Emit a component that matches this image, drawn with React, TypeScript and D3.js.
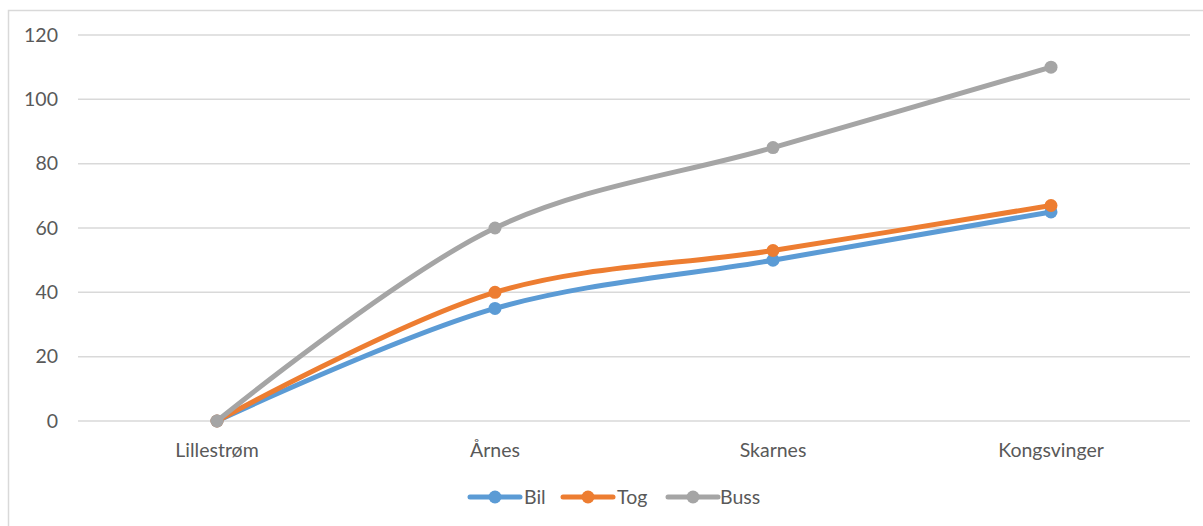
import React from "react";
import * as d3 from "d3";

const categories = ["Lillestrøm", "Årnes", "Skarnes", "Kongsvinger"];
const bil = [0, 35, 50, 65];
const tog = [0, 40, 53, 67];
const buss = [0, 60, 85, 110];
const yTicks = [0, 20, 40, 60, 80, 100, 120];

const seriesNames = ["Bil", "Tog", "Buss"];
const seriesColors = ["#5B9BD5", "#ED7D31", "#A5A5A5"];

const W = 1203;
const H = 526;
const plotLeft = 78;
const plotRight = 1190;
const plotTop = 35;
const plotBottom = 421;

export default function App() {
  const x = d3.scaleBand<string>().domain(categories).range([plotLeft, plotRight]);
  const y = d3.scaleLinear().domain([0, 120]).range([plotBottom, plotTop]);
  const cx = (c: string) => (x(c) as number) + x.bandwidth() / 2;
  const line = d3
    .line<number>()
    .x((_, i) => cx(categories[i]))
    .y((d) => y(d))
    .curve(d3.curveCatmullRom.alpha(0.5));

  const series = [bil, tog, buss];
  const font = "Lato, 'Open Sans', sans-serif";
  const textColor = "#595959";
  const fs = 19.5;

  const legendItems = [
    { lx: 470, tx: 524 },
    { lx: 563, tx: 617 },
    { lx: 668, tx: 720 },
  ];

  return (
    <div style={{ position: "absolute", left: 0, top: 0 }}>
      <svg width={W} height={H} style={{ display: "block", background: "#fff" }}>
        <rect x={8.5} y={10.5} width={W} height={H} fill="#fff" stroke="#D9D9D9" strokeWidth={1.5} />
        {yTicks.map((t) => (
          <g key={t}>
            <line x1={plotLeft} x2={plotRight} y1={y(t)} y2={y(t)} stroke="#D9D9D9" strokeWidth={1.5} />
            <text
              x={58}
              y={y(t)}
              dy="0.35em"
              textAnchor="end"
              fontFamily={font}
              fontSize={fs}
              fill={textColor}
            >
              {t}
            </text>
          </g>
        ))}
        {categories.map((c) => (
          <text
            key={c}
            x={cx(c)}
            y={457}
            textAnchor="middle"
            fontFamily={font}
            fontSize={fs}
            fill={textColor}
          >
            {c}
          </text>
        ))}
        {series.map((s, si) => (
          <g key={si}>
            <path d={line(s) || ""} fill="none" stroke={seriesColors[si]} strokeWidth={5} strokeLinecap="round" />
            {s.map((v, i) => (
              <circle key={i} cx={cx(categories[i])} cy={y(v)} r={6.5} fill={seriesColors[si]} />
            ))}
          </g>
        ))}
        {legendItems.map((it, i) => (
          <g key={i}>
            <line x1={it.lx} x2={it.lx + 50} y1={497} y2={497} stroke={seriesColors[i]} strokeWidth={5} strokeLinecap="round" />
            <circle cx={it.lx + 25} cy={497} r={6.5} fill={seriesColors[i]} />
            <text x={it.tx} y={497} dy="0.35em" fontFamily={font} fontSize={fs} fill={textColor}>
              {seriesNames[i]}
            </text>
          </g>
        ))}
      </svg>
    </div>
  );
}
